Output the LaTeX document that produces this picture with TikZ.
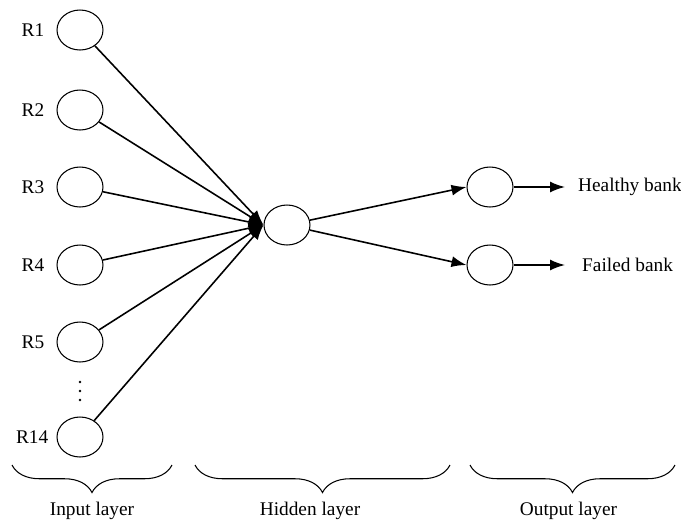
\documentclass[tikz,border=0pt]{standalone}
\usepackage{fontspec}
\setmainfont{Liberation Serif}
\usetikzlibrary{shapes,arrows.meta}
\usetikzlibrary{positioning}
\usetikzlibrary{decorations.pathreplacing}
\tikzstyle{neuron} = [draw, ellipse, line width=0.6pt, minimum width=0.92cm, minimum height=0.8cm, inner sep=0]
\tikzstyle{line} = [draw, line width=0.9pt, -{Latex[length=0.3cm, width=0.22cm]}]
\tikzstyle{layerbrace} = [draw, line width=0.6pt, decorate, decoration={brace, mirror, amplitude=0.55cm}]

\begin{document}
\begin{tikzpicture}[x=0.02cm, y=-0.02cm, font=\fontsize{11}{13}\selectfont]
\useasboundingbox (0, 0) rectangle (681, 525);

% input layer
\node at (80, 30) [neuron] (r1) {};
\node at (80, 110) [neuron] (r2) {};
\node at (80, 187) [neuron] (r3) {};
\node at (80, 265) [neuron] (r4) {};
\node at (80, 342) [neuron] (r5) {};
\node at (80, 437) [neuron] (r14) {};
\node [left=0.12cm of r1] (l1) {R1};
\node [left=0.12cm of r2] (l2) {R2};
\node [left=0.12cm of r3] (l3) {R3};
\node [left=0.12cm of r4] (l4) {R4};
\node [left=0.12cm of r5] (l5) {R5};
\node [left=0.04cm of r14] (l14) {R14};
\foreach \y in {382, 391, 400}
  \fill (80, \y) circle (1.3);

% hidden layer
\node at (287, 225) [neuron] (h) {};
\foreach \i in {1,2,3,4,5,14}
  \path [line] (r\i) -- (h.west);

% output layer
\node at (490, 187) [neuron] (o1) {};
\node at (490, 265) [neuron] (o2) {};
\path [line] (h) -- (o1.west);
\path [line] (h) -- (o2.west);
\coordinate (e1) at (565, 187);
\coordinate (e2) at (565, 265);
\path [line] (o1) -- (e1);
\path [line] (o2) -- (e2);
\node [right=0.14cm of e1] (healthy) {Healthy bank};
\node [right=0.22cm of e2] (failed) {Failed bank};

% braces
\path [layerbrace] (12, 465) -- node [below=0.62cm] (inlab) {Input layer} (172, 465);
\path [layerbrace] (195, 465) -- node [below=0.62cm, xshift=-0.25cm] (hidlab) {Hidden layer} (450, 465);
\path [layerbrace] (470, 465) -- node [below=0.62cm, xshift=-0.08cm] (outlab) {Output layer} (675, 465);
\end{tikzpicture}
\end{document}
